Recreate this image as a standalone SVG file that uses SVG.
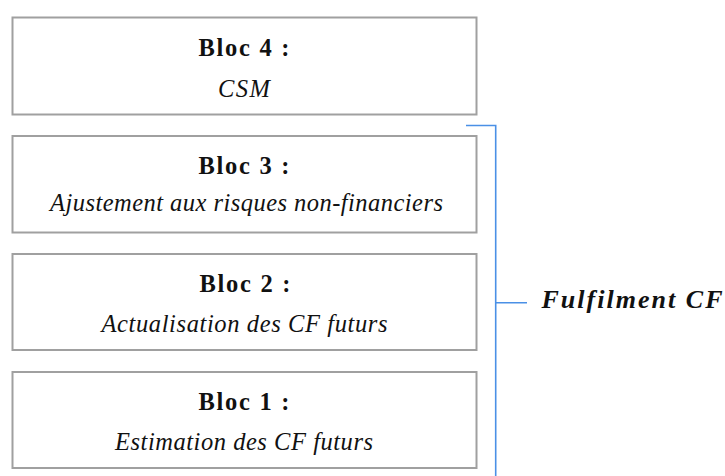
<svg xmlns="http://www.w3.org/2000/svg" width="725" height="476" viewBox="0 0 725 476">
<style>
.box{fill:#fff;stroke:#a0a0a0;stroke-width:2}
.t{font-family:"Liberation Serif","Times New Roman",serif;font-size:24.5px;fill:#111;text-anchor:middle}
.b{font-weight:bold}
.i{font-style:italic}
.br{fill:none;stroke:#4a90e6;stroke-width:1.6}
</style>
<rect width="725" height="476" fill="#fff"/>
<g id="bloc4">
<rect class="box" x="12.5" y="17.5" width="464" height="97"/>
<text class="t b" x="244" y="56" textLength="91" lengthAdjust="spacing">Bloc 4 :</text>
<text class="t i" x="244" y="96.5" textLength="52" lengthAdjust="spacing">CSM</text>
</g>
<g id="bloc3">
<rect class="box" x="12.5" y="136" width="464" height="96.5"/>
<text class="t b" x="244" y="174" textLength="91" lengthAdjust="spacing">Bloc 3 :</text>
<text class="t i" x="246.5" y="211" textLength="393" lengthAdjust="spacing">Ajustement aux risques non-financiers</text>
</g>
<g id="bloc2">
<rect class="box" x="12.5" y="254" width="464" height="96"/>
<text class="t b" x="245" y="292" textLength="91" lengthAdjust="spacing">Bloc 2 :</text>
<text class="t i" x="244.5" y="332" textLength="286" lengthAdjust="spacing">Actualisation des CF futurs</text>
</g>
<g id="bloc1">
<rect class="box" x="12.5" y="372" width="464" height="96"/>
<text class="t b" x="244" y="410" textLength="91" lengthAdjust="spacing">Bloc 1 :</text>
<text class="t i" x="244" y="450" textLength="258" lengthAdjust="spacing">Estimation des CF futurs</text>
</g>
<g id="connectors">
<path class="br" d="M466 125.5 H495.7 V476 M495.7 302.7 H527"/>
</g>
<g id="fulfilment">
<text class="t b i" x="541.5" y="308" style="text-anchor:start;font-size:26px" textLength="181" lengthAdjust="spacing">Fulfilment CF</text>
</g>
</svg>
